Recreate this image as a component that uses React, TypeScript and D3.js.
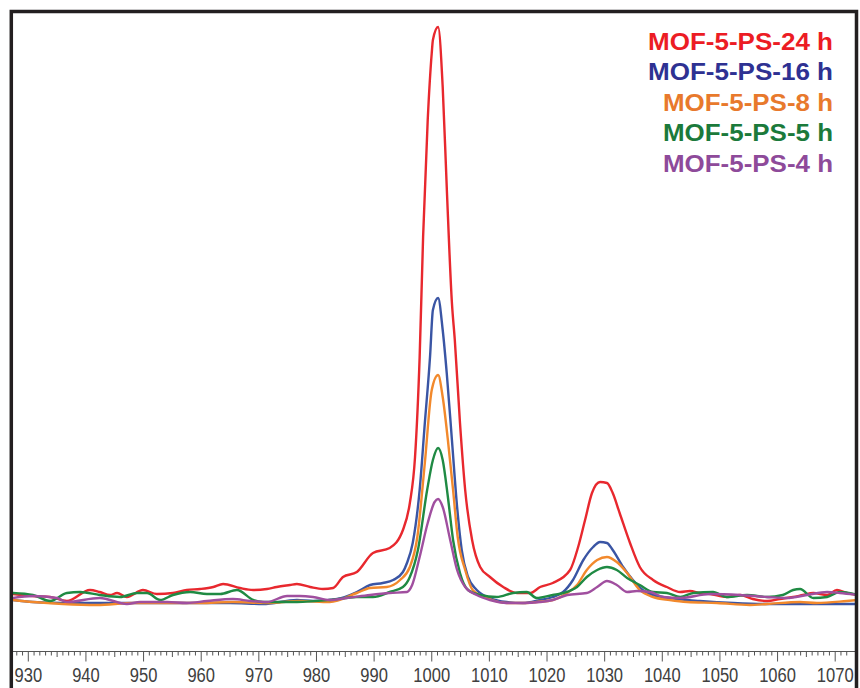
import React from "react";
import * as d3 from "d3";

// Raman-like spectra: [wavenumber, intensity(a.u.)]
const red24h: [number, number][] = [
  [927.3,58],[930.8,56],[933.8,55],[936.7,51],[940.7,62],[942.4,60],[944.2,57],[945.4,59],[947.1,55],[949.9,62],[952.3,58],[955.1,59],[957.5,62],[959.8,63],[962.1,65],[963.8,68],[966.7,64],[969,62],[971.4,63],[973.1,65],[975.4,67],[976.6,68],[978.9,65],[981.1,63],[982.9,64],[984.6,75],[987,80],[989.8,99],[992.7,104],[995,122],[996.2,149],[997.1,195],[997.9,295],[998.5,415],[999.3,532],[1000,599],[1000.2,612],[1001.1,625],[1001.9,565],[1002.6,465],[1003.5,349],[1004,312],[1004.9,229],[1005.8,162],[1007,112],[1008.4,85],[1010.1,75],[1012.4,65],[1014.8,59],[1017.1,59],[1018.8,65],[1021,69],[1024,82],[1025.4,105],[1026.6,132],[1027.8,159],[1029.2,170],[1030.4,169],[1031.4,159],[1032.6,139],[1034.4,109],[1036.1,85],[1038.4,72],[1040.8,65],[1043.1,60],[1044.8,61],[1046.5,59],[1048.3,58],[1051.2,55],[1053.5,57],[1055.7,53],[1058.2,51],[1060.4,53],[1062.7,55],[1064.4,57],[1066.2,59],[1068.6,57],[1070.3,62],[1072,59],[1074,57]
];
const blue16h: [number, number][] = [
  [927.3,52],[930.8,50],[936,49],[942.4,49],[953,49],[965,49],[970.7,48],[976.6,52],[979.4,51],[983.6,53],[987,60],[989.3,67],[991.5,69],[993.3,72],[995,80],[995.7,89],[996.7,109],[997.9,162],[998.8,229],[999.7,295],[1000.2,342],[1001.1,354],[1001.9,322],[1002.6,279],[1003.5,212],[1004.4,145],[1005.2,102],[1006.3,75],[1007.8,62],[1010.1,54],[1013,50],[1015.8,49],[1018.8,52],[1021,55],[1022.8,60],[1024.5,72],[1026.3,92],[1028,105],[1029.2,110],[1030.4,109],[1031.4,102],[1033.2,85],[1034.9,72],[1036.6,62],[1038.4,57],[1041.3,54],[1044.3,52],[1046.5,51],[1052.3,49],[1058.2,48],[1063.9,48],[1069.6,48],[1074,48]
];
const orange8h: [number, number][] = [
  [927.3,52],[930.8,50],[936,48],[941.9,47],[948.2,49],[954.1,49],[959.8,49],[965.5,50],[971.4,49],[977.1,51],[982.3,50],[987,59],[989.3,64],[992.2,65],[994.5,72],[996.2,85],[997.5,115],[998.8,189],[1000,262],[1001.1,277],[1001.9,255],[1002.8,212],[1003.7,162],[1004.5,115],[1005.8,82],[1007.1,62],[1009.6,54],[1013,49],[1016.5,49],[1018.2,50],[1021,52],[1023.5,59],[1025.2,67],[1026.9,82],[1028.7,92],[1030.4,95],[1032.1,90],[1033.9,79],[1036.1,62],[1038.4,55],[1041.3,52],[1044.3,50],[1049.5,49],[1055.2,47],[1058.2,48],[1063.9,50],[1066.8,49],[1072,51],[1074,52]
];
const green5h: [number, number][] = [
  [927.3,59],[930.8,57],[933.8,51],[936.7,59],[939,60],[942.4,57],[945.9,55],[948.9,59],[950.6,59],[952.9,52],[955.1,57],[958.1,60],[961,58],[963.3,58],[966.2,62],[969,52],[970.7,50],[976.6,50],[982.3,52],[987,55],[989.8,55],[992.7,60],[995,65],[996.2,75],[997.6,102],[999.2,162],[1000.2,192],[1001.1,204],[1001.9,192],[1002.8,155],[1003.7,112],[1004.9,79],[1006.3,62],[1008.4,57],[1011.3,55],[1014.1,59],[1016.5,60],[1018.2,54],[1021,57],[1022.8,59],[1025.2,65],[1026.9,75],[1028.7,82],[1030.4,85],[1032.1,82],[1033.9,74],[1036.1,67],[1038.4,60],[1040.8,59],[1043.1,55],[1045.4,59],[1048.8,60],[1051.2,55],[1054.7,57],[1058.2,55],[1060.9,57],[1062.7,62],[1063.9,63],[1066.2,54],[1068.6,55],[1070.8,60],[1074,57]
];
const purple4h: [number, number][] = [
  [927.3,54],[930.8,56],[935,54],[936.7,50],[942.4,54],[947.1,48],[949.4,50],[954.1,50],[957.5,49],[961,51],[965.5,53],[968.5,51],[971.4,50],[974.9,56],[977.1,56],[979.4,55],[982.3,52],[985.3,54],[989.3,57],[992.7,59],[995.7,60],[996.6,67],[997.9,95],[999.3,129],[1000.5,150],[1001.1,153],[1001.9,145],[1003.2,112],[1004.4,82],[1005.8,65],[1007.8,57],[1010.1,52],[1013,49],[1015.8,49],[1018.8,50],[1021,52],[1023.5,57],[1026.9,59],[1028.7,65],[1030.4,71],[1032.1,67],[1033.9,60],[1035.6,61],[1037.9,60],[1040.2,55],[1043.1,54],[1048.3,58],[1053.5,57],[1058.2,55],[1061.6,54],[1065.1,57],[1068.6,60],[1070.8,59],[1074,57]
];

const seriesNames = ["MOF-5-PS-24 h", "MOF-5-PS-16 h", "MOF-5-PS-8 h", "MOF-5-PS-5 h", "MOF-5-PS-4 h"];
const seriesData = [red24h, blue16h, orange8h, green5h, purple4h];
const lineColors = ["#e8282e", "#3a55a4", "#f2892c", "#1f8a43", "#a04f9f"];
const legendColors = ["#ec1c24", "#2e3192", "#e8792c", "#1b7a3b", "#8e4a9a"];
const majorTicks = [930, 940, 950, 960, 970, 980, 990, 1000, 1010, 1020, 1030, 1040, 1050, 1060, 1070];

const W = 860, H = 688;
const plotLeft = 13, plotRight = 855, plotTop = 13, axisY = 651.5;

export default function App() {
  const x = d3.scaleLinear().domain([930, 1070]).range([28.3, 835.2]);
  const y = d3.scaleLinear().domain([0, 640]).range([652, 12]);
  const line = d3.line<[number, number]>()
    .x(d => x(d[0]))
    .y(d => y(d[1]))
    .curve(d3.curveMonotoneX);

  const minorTicks = d3.range(928, 1073, 1);
  const drawOrder = [0, 1, 2, 3, 4];

  return (
    <svg width={W} height={H} style={{ position: "absolute", left: 0, top: 0, background: "#fff" }}
      fontFamily="'Liberation Sans', Arial, sans-serif">
      <defs>
        <clipPath id="plotclip">
          <rect x={plotLeft} y={plotTop} width={plotRight - plotLeft} height={axisY - plotTop} />
        </clipPath>
      </defs>
      <rect x={0} y={0} width={W} height={H} fill="#fff" />
      <g clipPath="url(#plotclip)">
        {drawOrder.map(i => (
          <path key={i} d={line(seriesData[i]) || ""} fill="none" stroke={lineColors[i]}
            strokeWidth={2.4} strokeLinejoin="round" strokeLinecap="round" />
        ))}
      </g>
      {/* x axis */}
      <line x1={plotLeft} x2={plotRight} y1={axisY} y2={axisY} stroke="#555" strokeWidth={1} />
      {minorTicks.map(t => {
        const len = t % 10 === 0 ? 10 : t % 5 === 0 ? 5.5 : 4;
        return <line key={t} x1={x(t)} x2={x(t)} y1={axisY} y2={axisY + len} stroke="#555" strokeWidth={1} />;
      })}
      {majorTicks.map(t => {
        const s = String(t);
        return (
          <text key={t} x={x(t)} y={681.5} textAnchor="middle" fontSize={20} fill="#404040"
            textLength={s.length * 9.2} lengthAdjust="spacingAndGlyphs">{s}</text>
        );
      })}
      {/* legend */}
      {seriesNames.map((n, i) => (
        <text key={n} x={833} y={50 + i * 30.4} textAnchor="end" fontSize={24} fontWeight="bold"
          fill={legendColors[i]} textLength={i < 2 ? 185 : 170} lengthAdjust="spacingAndGlyphs">{n}</text>
      ))}
      {/* frame */}
      <path d={`M11.3,${H} L11.3,11.5 L856.5,11.5 L856.5,${H}`} fill="none" stroke="#231f20" strokeWidth={3.5} />
    </svg>
  );
}
